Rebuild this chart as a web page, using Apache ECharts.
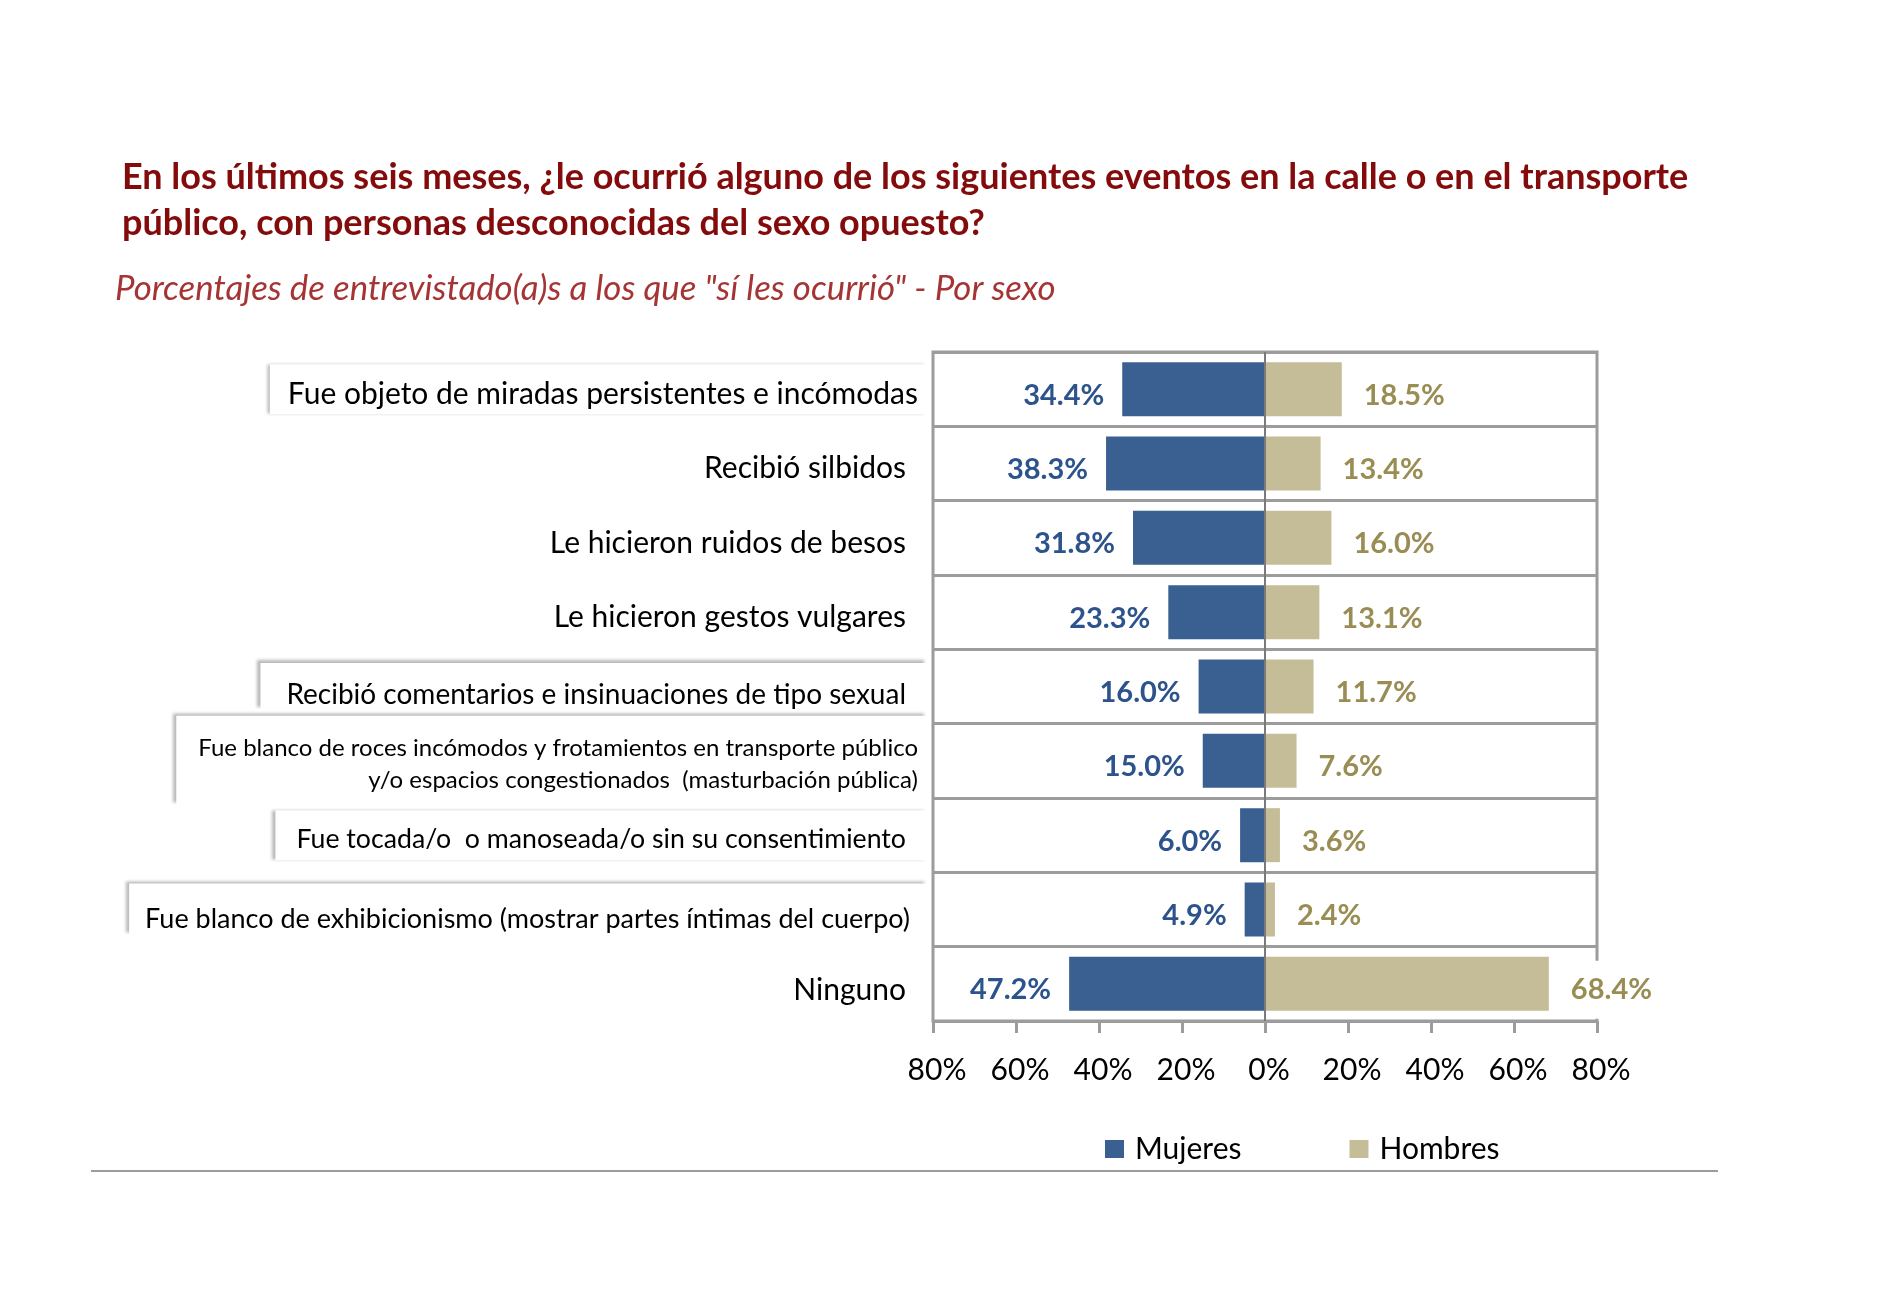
<!DOCTYPE html>
<html>
<head>
<meta charset="utf-8">
<script src="https://cdn.jsdelivr.net/npm/echarts@6/dist/echarts.min.js"></script>
<style>
html,body{margin:0;padding:0;background:#fff;}
#chart{width:1900px;height:1300px;}
</style>
</head>
<body>
<div id="chart"></div>
<script>
const titleText = 'En los últimos seis meses, ¿le ocurrió alguno de los siguientes eventos en la calle o en el transporte\npúblico, con personas desconocidas del sexo opuesto?';
const subtitleText = 'Porcentajes de entrevistado(a)s a los que "sí les ocurrió" - Por sexo';
const categories = [
  'Fue objeto de miradas persistentes e incómodas',
  'Recibió silbidos',
  'Le hicieron ruidos de besos',
  'Le hicieron gestos vulgares',
  'Recibió comentarios e insinuaciones de tipo sexual',
  'Fue blanco de roces incómodos y frotamientos en transporte público\ny/o espacios congestionados  (masturbación pública)',
  'Fue tocada/o  o manoseada/o sin su consentimiento',
  'Fue blanco de exhibicionismo (mostrar partes íntimas del cuerpo)',
  'Ninguno'
];
const seriesNames = ['Mujeres', 'Hombres'];
const mujeres = [34.4, 38.3, 31.8, 23.3, 16.0, 15.0, 6.0, 4.9, 47.2];
const hombres = [18.5, 13.4, 16.0, 13.1, 11.7, 7.6, 3.6, 2.4, 68.4];

const FONT = 'Lato, "Noto Sans", sans-serif';

// per-category label box styles (text-box remnants in the original)
const boxLeftOnly = {backgroundColor:'#fff', shadowColor:'rgba(0,0,0,0.28)', shadowBlur:3, shadowOffsetX:-3, shadowOffsetY:0};
const boxTopLeft = {backgroundColor:'#fff', shadowColor:'rgba(0,0,0,0.28)', shadowBlur:3, shadowOffsetX:-3, shadowOffsetY:-3};
const boxStyles = [
  Object.assign({padding:[12, 9, 2, 18]}, boxLeftOnly),
  {padding:[10, 21, 0, 0]},
  {padding:[10, 21, 0, 0]},
  {padding:[10, 21, 0, 0]},
  Object.assign({padding:[17, 21, 0, 26]}, boxTopLeft),
  Object.assign({padding:[16, 9, 10, 22]}, boxTopLeft),
  Object.assign({padding:[13, 21, 4, 21]}, boxLeftOnly),
  Object.assign({padding:[19, 17, 0, 16]}, boxTopLeft),
  {padding:[12, 21, 0, 0]}
];
const richStyles = {
  r0:{fontSize:30, lineHeight:36},
  r1:{fontSize:30, lineHeight:36},
  r2:{fontSize:30, lineHeight:36},
  r3:{fontSize:30, lineHeight:36},
  r4:{fontSize:28, lineHeight:30},
  r5:{fontSize:24, lineHeight:32},
  r6:{fontSize:26.7, lineHeight:33},
  r7:{fontSize:27, lineHeight:33},
  r8:{fontSize:30, lineHeight:36}
};
Object.keys(richStyles).forEach(k => Object.assign(richStyles[k], {fontFamily:FONT, color:'#000'}));
const yData = categories.map((c, i) => ({value: c, textStyle: boxStyles[i]}));

const chart = echarts.init(document.getElementById('chart'), null, {renderer:'canvas'});
chart.setOption({
  backgroundColor:'#fff',
  animation:false,
  textStyle:{fontFamily:FONT},
  title:[
    {text:titleText, left:122, top:154, padding:0,
     textStyle:{fontFamily:FONT, fontSize:36, fontWeight:'bold', color:'#840B0B', lineHeight:46}},
    {text:subtitleText, left:115, top:269, padding:0,
     textStyle:{fontFamily:FONT, fontSize:34.8, fontWeight:'normal', fontStyle:'italic', color:'#A53434', lineHeight:40}}
  ],
  legend:{
    data:seriesNames, left:1105, top:1131, padding:0, itemGap:108, itemWidth:19, itemHeight:18, icon:'rect',
    textStyle:{fontFamily:FONT, fontSize:30, lineHeight:36, color:'#000', padding:[0,0,0,6]}
  },
  grid:{left:933, right:303, top:352, bottom:279, show:true, borderColor:'#9c9c9c', borderWidth:3, backgroundColor:'transparent'},
  xAxis:{
    type:'value', min:-80, max:80, interval:20,
    axisLine:{show:false},
    axisTick:{show:true, length:12, lineStyle:{color:'#9c9c9c', width:3}},
    splitLine:{show:false},
    axisLabel:{fontFamily:FONT, fontSize:30, color:'#000', margin:34, padding:[0,0,0,8],
      formatter:v => Math.abs(v) + '%'}
  },
  yAxis:{
    type:'category', inverse:true, data:yData,
    axisLine:{show:false}, axisTick:{show:false},
    splitLine:{show:true, lineStyle:{color:'#9c9c9c', width:3}},
    axisLabel:{fontFamily:FONT, fontSize:30, color:'#000', margin:6, align:'right',
      rich:richStyles,
      formatter:(value, idx) => value.split('\n').map(l => '{r' + idx + '|' + l + '}').join('\n')}
  },
  series:[
    {name:seriesNames[0], type:'bar', stack:'s', barWidth:54,
     data:mujeres.map(v => -v),
     itemStyle:{color:'#3A5F91'},
     label:{show:true, position:'left', distance:18, offset:[0,6], fontFamily:FONT, fontSize:29, fontWeight:'bold', color:'#2D538C',
       formatter:p => Math.abs(p.value).toFixed(1) + '%'},
     markLine:{silent:true, symbol:'none', label:{show:false},
       lineStyle:{color:'#7a7a7a', width:2, type:'solid'}, data:[{xAxis:0}]}
    },
    {name:seriesNames[1], type:'bar', stack:'s', barWidth:54,
     data:hombres,
     itemStyle:{color:'#C4BD97'},
     label:{show:true, position:'right', distance:18, offset:[0,6], fontFamily:FONT, fontSize:29, fontWeight:'bold', color:'#998D54',
       backgroundColor:'#fff', padding:[20,4,9,4],
       formatter:p => p.value.toFixed(1) + '%'}
    }
  ],
  graphic:[
    {type:'line', shape:{x1:91, y1:1171, x2:1718, y2:1171}, style:{stroke:'#9c9c9c', lineWidth:2}, silent:true}
  ]
});
</script>
</body>
</html>
